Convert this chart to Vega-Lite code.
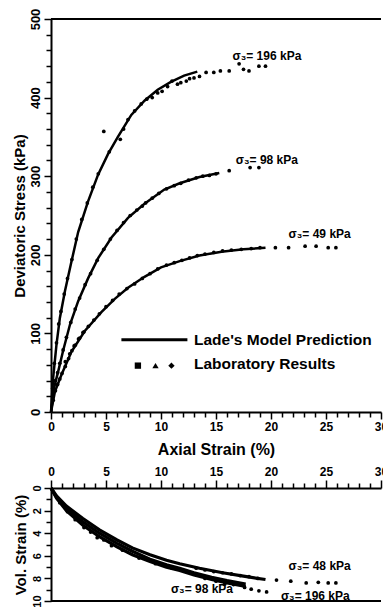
{
  "$schema": "https://vega.github.io/schema/vega-lite/v6.json",
  "background": "white",
  "padding": {"left": 12, "top": 8, "right": 0, "bottom": 0},
  "bounds": "flush",
  "spacing": 76,
  "config": {
    "font": "Liberation Sans",
    "view": {"stroke": null},
    "axis": {
      "grid": false,
      "domainColor": "black",
      "domainWidth": 2,
      "tickColor": "black",
      "tickWidth": 1.5,
      "labelColor": "black",
      "titleColor": "black",
      "labelFontWeight": "bold",
      "titleFontWeight": "bold",
      "labelFont": "Liberation Sans",
      "titleFont": "Liberation Sans",
      "labelOverlap": false,
      "labelFlush": false
    }
  },
  "datasets": {
    "model": [
      {"s": 0, "q": 0, "c": "196"}, {"s": 0.2, "q": 44, "c": "196"}, {"s": 0.5, "q": 86, "c": "196"}, {"s": 0.81, "q": 120, "c": "196"}, {"s": 1.27, "q": 154, "c": "196"}, {"s": 1.87, "q": 192, "c": "196"}, {"s": 2.47, "q": 229, "c": "196"}, {"s": 3.37, "q": 268, "c": "196"}, {"s": 4.28, "q": 302, "c": "196"}, {"s": 5.18, "q": 328, "c": "196"}, {"s": 6.08, "q": 350, "c": "196"}, {"s": 7.3, "q": 378, "c": "196"}, {"s": 8.5, "q": 396, "c": "196"}, {"s": 9.7, "q": 410, "c": "196"}, {"s": 10.9, "q": 420, "c": "196"}, {"s": 12.1, "q": 428, "c": "196"}, {"s": 13.3, "q": 433, "c": "196"},
      {"s": 0, "q": 0, "c": "98"}, {"s": 0.3, "q": 32, "c": "98"}, {"s": 0.66, "q": 52, "c": "98"}, {"s": 1.1, "q": 78, "c": "98"}, {"s": 1.72, "q": 111, "c": "98"}, {"s": 2.47, "q": 141, "c": "98"}, {"s": 3.37, "q": 170, "c": "98"}, {"s": 4.3, "q": 196, "c": "98"}, {"s": 5.5, "q": 222, "c": "98"}, {"s": 7.0, "q": 247, "c": "98"}, {"s": 8.5, "q": 265, "c": "98"}, {"s": 10.3, "q": 283, "c": "98"}, {"s": 11.7, "q": 291, "c": "98"}, {"s": 13.5, "q": 299, "c": "98"}, {"s": 15.3, "q": 304, "c": "98"},
      {"s": 0, "q": 0, "c": "49"}, {"s": 0.36, "q": 26, "c": "49"}, {"s": 0.97, "q": 48, "c": "49"}, {"s": 1.87, "q": 77, "c": "49"}, {"s": 3.07, "q": 103, "c": "49"}, {"s": 4.58, "q": 127, "c": "49"}, {"s": 5.8, "q": 144, "c": "49"}, {"s": 7.0, "q": 158, "c": "49"}, {"s": 8.5, "q": 172, "c": "49"}, {"s": 10.0, "q": 184, "c": "49"}, {"s": 11.7, "q": 192, "c": "49"}, {"s": 13.5, "q": 199, "c": "49"}, {"s": 15.5, "q": 204, "c": "49"}, {"s": 17.5, "q": 207, "c": "49"}, {"s": 19.5, "q": 209, "c": "49"}
    ],
    "lab": [
      {"s": 0.15, "q": 30}, {"s": 0.3, "q": 62}, {"s": 0.5, "q": 88}, {"s": 0.7, "q": 112}, {"s": 0.9, "q": 128}, {"s": 1.2, "q": 150}, {"s": 1.5, "q": 170}, {"s": 1.9, "q": 194}, {"s": 2.3, "q": 220}, {"s": 2.8, "q": 245}, {"s": 3.3, "q": 266}, {"s": 3.8, "q": 286}, {"s": 4.3, "q": 303}, {"s": 4.8, "q": 357}, {"s": 5.3, "q": 331}, {"s": 6.3, "q": 347}, {"s": 6.6, "q": 360}, {"s": 7.0, "q": 372}, {"s": 7.6, "q": 383}, {"s": 8.2, "q": 392}, {"s": 8.7, "q": 398}, {"s": 9.2, "q": 400}, {"s": 9.7, "q": 406}, {"s": 10.1, "q": 408}, {"s": 10.6, "q": 414}, {"s": 11.0, "q": 421}, {"s": 11.5, "q": 417}, {"s": 11.8, "q": 419}, {"s": 12.3, "q": 421}, {"s": 12.6, "q": 424}, {"s": 13.0, "q": 425}, {"s": 13.5, "q": 427}, {"s": 14.1, "q": 432}, {"s": 14.8, "q": 432}, {"s": 15.4, "q": 434}, {"s": 16.2, "q": 434}, {"s": 17.1, "q": 443}, {"s": 17.5, "q": 436}, {"s": 18.0, "q": 434}, {"s": 18.9, "q": 440}, {"s": 19.5, "q": 440},
      {"s": 0.2, "q": 25}, {"s": 0.4, "q": 40}, {"s": 0.6, "q": 50}, {"s": 0.8, "q": 62}, {"s": 1.1, "q": 79}, {"s": 1.4, "q": 95}, {"s": 1.8, "q": 114}, {"s": 2.2, "q": 131}, {"s": 2.6, "q": 145}, {"s": 3.1, "q": 162}, {"s": 3.6, "q": 176}, {"s": 4.2, "q": 193}, {"s": 4.8, "q": 207}, {"s": 5.4, "q": 220}, {"s": 6.0, "q": 231}, {"s": 6.6, "q": 241}, {"s": 7.2, "q": 250}, {"s": 7.8, "q": 257}, {"s": 8.3, "q": 262}, {"s": 8.6, "q": 266}, {"s": 9.2, "q": 272}, {"s": 9.8, "q": 278}, {"s": 10.5, "q": 284}, {"s": 11.2, "q": 288}, {"s": 11.8, "q": 291}, {"s": 12.5, "q": 295}, {"s": 13.2, "q": 298}, {"s": 13.8, "q": 300}, {"s": 14.4, "q": 301}, {"s": 15.0, "q": 303}, {"s": 16.2, "q": 307}, {"s": 18.1, "q": 311}, {"s": 18.9, "q": 311},
      {"s": 0.2, "q": 15}, {"s": 0.4, "q": 27}, {"s": 0.6, "q": 35}, {"s": 0.8, "q": 42}, {"s": 1.0, "q": 49}, {"s": 1.3, "q": 58}, {"s": 1.6, "q": 68}, {"s": 1.9, "q": 78}, {"s": 2.2, "q": 85}, {"s": 2.6, "q": 94}, {"s": 3.0, "q": 102}, {"s": 3.4, "q": 109}, {"s": 3.9, "q": 117}, {"s": 4.4, "q": 125}, {"s": 5.0, "q": 134}, {"s": 5.6, "q": 142}, {"s": 6.2, "q": 150}, {"s": 6.9, "q": 157}, {"s": 7.6, "q": 163}, {"s": 8.3, "q": 170}, {"s": 9.0, "q": 176}, {"s": 9.7, "q": 182}, {"s": 10.5, "q": 187}, {"s": 11.2, "q": 190}, {"s": 11.9, "q": 193}, {"s": 12.6, "q": 196}, {"s": 13.3, "q": 199}, {"s": 14.0, "q": 201}, {"s": 14.8, "q": 203}, {"s": 15.6, "q": 205}, {"s": 16.4, "q": 206}, {"s": 17.3, "q": 207}, {"s": 18.2, "q": 208}, {"s": 19.0, "q": 209}, {"s": 20.4, "q": 209}, {"s": 21.6, "q": 209}, {"s": 23.1, "q": 211}, {"s": 24.1, "q": 211}, {"s": 25.2, "q": 209}, {"s": 25.9, "q": 209},
      {"s": 1.3, "q": 64}, {"s": 1.7, "q": 74}, {"s": 2.1, "q": 84}, {"s": 2.5, "q": 93}, {"s": 2.9, "q": 101}
    ],
    "toplabels": [
      {"s": 16.5, "q": 453, "t": "σ₃= 196 kPa"},
      {"s": 16.8, "q": 320, "t": "σ₃= 98 kPa"},
      {"s": 21.6, "q": 227, "t": "σ₃= 49 kPa"}
    ],
    "legline": [{"s": 6.4, "s2": 12.4, "q": 92}],
    "legmark": [
      {"s": 7.9, "q": 59, "shape": "square"},
      {"s": 9.5, "q": 59, "shape": "triangle-up"},
      {"s": 10.95, "q": 59, "shape": "diamond"}
    ],
    "legtext": [
      {"s": 13.0, "q": 91, "t": "Lade's Model Prediction"},
      {"s": 13.0, "q": 61, "t": "Laboratory Results"}
    ],
    "vmodel": [
      {"s": 0, "v": 0, "c": "49"}, {"s": 0.5, "v": 0.7, "c": "49"}, {"s": 1.4, "v": 1.6, "c": "49"}, {"s": 2.9, "v": 2.7, "c": "49"}, {"s": 4.4, "v": 3.7, "c": "49"}, {"s": 6.0, "v": 4.6, "c": "49"}, {"s": 7.4, "v": 5.3, "c": "49"}, {"s": 9.0, "v": 5.9, "c": "49"}, {"s": 10.5, "v": 6.4, "c": "49"}, {"s": 11.7, "v": 6.7, "c": "49"}, {"s": 13.5, "v": 7.1, "c": "49"}, {"s": 15.6, "v": 7.5, "c": "49"}, {"s": 17.5, "v": 7.8, "c": "49"}, {"s": 19.5, "v": 8.1, "c": "49"},
      {"s": 0, "v": 0, "c": "98"}, {"s": 0.5, "v": 0.8, "c": "98"}, {"s": 1.4, "v": 1.8, "c": "98"}, {"s": 2.9, "v": 3.0, "c": "98"}, {"s": 4.4, "v": 4.0, "c": "98"}, {"s": 6.0, "v": 4.9, "c": "98"}, {"s": 7.4, "v": 5.6, "c": "98"}, {"s": 9.0, "v": 6.3, "c": "98"}, {"s": 10.5, "v": 6.8, "c": "98"}, {"s": 11.7, "v": 7.1, "c": "98"}, {"s": 13.0, "v": 7.5, "c": "98"}, {"s": 14.6, "v": 7.9, "c": "98"}, {"s": 16.0, "v": 8.2, "c": "98"}, {"s": 17.7, "v": 8.5, "c": "98"},
      {"s": 0, "v": 0, "c": "196"}, {"s": 0.5, "v": 0.9, "c": "196"}, {"s": 1.4, "v": 2.0, "c": "196"}, {"s": 2.9, "v": 3.3, "c": "196"}, {"s": 4.4, "v": 4.3, "c": "196"}, {"s": 6.0, "v": 5.2, "c": "196"}, {"s": 7.4, "v": 5.9, "c": "196"}, {"s": 9.0, "v": 6.5, "c": "196"}, {"s": 10.5, "v": 7.0, "c": "196"}, {"s": 11.7, "v": 7.3, "c": "196"}, {"s": 13.0, "v": 7.7, "c": "196"}, {"s": 14.6, "v": 8.1, "c": "196"}, {"s": 16.0, "v": 8.4, "c": "196"}, {"s": 17.7, "v": 8.7, "c": "196"}
    ],
    "vlab": [
      {"s": 0.8, "v": 1.3}, {"s": 1.5, "v": 2.1}, {"s": 2.2, "v": 2.8}, {"s": 3.0, "v": 3.5}, {"s": 3.6, "v": 3.9}, {"s": 4.2, "v": 4.4}, {"s": 4.8, "v": 4.6}, {"s": 5.5, "v": 5.1}, {"s": 6.5, "v": 5.5}, {"s": 8.0, "v": 6.2}, {"s": 9.5, "v": 6.7}, {"s": 11.0, "v": 7.1},
      {"s": 13.2, "v": 7.1}, {"s": 14.0, "v": 7.25}, {"s": 14.8, "v": 7.4}, {"s": 15.6, "v": 7.5}, {"s": 16.4, "v": 7.6}, {"s": 17.2, "v": 7.75}, {"s": 18.0, "v": 7.85}, {"s": 18.8, "v": 8.0},
      {"s": 20.5, "v": 8.15}, {"s": 21.8, "v": 8.25}, {"s": 23.2, "v": 8.4}, {"s": 24.3, "v": 8.35}, {"s": 25.2, "v": 8.4}, {"s": 25.9, "v": 8.4},
      {"s": 14.0, "v": 8.0}, {"s": 15.0, "v": 8.25}, {"s": 15.8, "v": 8.5}, {"s": 16.6, "v": 8.55}, {"s": 17.6, "v": 8.8}, {"s": 18.2, "v": 8.95}, {"s": 18.9, "v": 9.1}, {"s": 19.6, "v": 9.2}
    ],
    "botlabels": [
      {"s": 21.6, "v": 6.9, "t": "σ₃= 48 kPa"},
      {"s": 10.9, "v": 8.9, "t": "σ₃= 98 kPa"},
      {"s": 20.9, "v": 9.6, "t": "σ₃= 196 kPa"}
    ]
  },
  "vconcat": [
    {
      "width": 330,
      "height": 393,
      "resolve": {"axis": {"x": "independent", "y": "independent"}},
      "layer": [
        {
          "data": {"name": "model"},
          "mark": {"type": "line", "color": "black", "strokeWidth": 2.5},
          "encoding": {
            "x": {
              "field": "s", "type": "quantitative",
              "scale": {"domain": [0, 30], "nice": false},
              "axis": {
                "orient": "bottom",
                "values": [0, 5, 10, 15, 20, 25, 30],
                "tickSize": 7,
                "labelFontSize": 12,
                "labelPadding": 2,
                "labelOverlap": false,
                "title": "Axial Strain (%)",
                "titleFontSize": 16,
                "titlePadding": 9
              }
            },
            "y": {
              "field": "q", "type": "quantitative",
              "scale": {"domain": [0, 500], "nice": false},
              "axis": {
                "orient": "left",
                "values": [0, 100, 200, 300, 400, 500],
                "tickSize": 7,
                "labelAngle": 270,
                "labelAlign": "center",
                "labelBaseline": "bottom",
                "labelFontSize": 13,
                "labelPadding": 2,
                "labelOverlap": false,
                "title": "Deviatoric Stress (kPa)",
                "titleFontSize": 15,
                "titlePadding": 2
              }
            },
            "detail": {"field": "c", "type": "nominal"}
          }
        },
        {
          "data": {"name": "lab"},
          "mark": {"type": "circle", "color": "black", "size": 14, "opacity": 1},
          "encoding": {
            "x": {
              "field": "s", "type": "quantitative",
              "axis": {"orient": "bottom", "values": [1,2,3,4,6,7,8,9,11,12,13,14,16,17,18,19,21,22,23,24,26,27,28,29], "tickSize": 5, "labels": false, "domain": false, "title": null}
            },
            "y": {
              "field": "q", "type": "quantitative",
              "axis": {"orient": "left", "values": [20,40,60,80,120,140,160,180,220,240,260,280,320,340,360,380,420,440,460,480], "tickSize": 5, "labels": false, "domain": false, "title": null}
            }
          }
        },
        {
          "data": {"name": "toplabels"},
          "mark": {"type": "text", "align": "left", "baseline": "middle", "fontSize": 12, "fontWeight": "bold", "color": "black"},
          "encoding": {
            "x": {"field": "s", "type": "quantitative", "axis": null},
            "y": {"field": "q", "type": "quantitative", "axis": null},
            "text": {"field": "t"}
          }
        },
        {
          "data": {"name": "legline"},
          "mark": {"type": "rule", "color": "black", "strokeWidth": 3},
          "encoding": {
            "x": {"field": "s", "type": "quantitative", "axis": null},
            "x2": {"field": "s2"},
            "y": {"field": "q", "type": "quantitative", "axis": null}
          }
        },
        {
          "data": {"name": "legmark"},
          "mark": {"type": "point", "filled": true, "color": "black", "size": 40, "opacity": 1},
          "encoding": {
            "x": {"field": "s", "type": "quantitative", "axis": null},
            "y": {"field": "q", "type": "quantitative", "axis": null},
            "shape": {"field": "shape", "type": "nominal", "scale": null}
          }
        },
        {
          "data": {"name": "legtext"},
          "mark": {"type": "text", "align": "left", "baseline": "middle", "fontSize": 15.5, "fontWeight": "bold", "color": "black"},
          "encoding": {
            "x": {"field": "s", "type": "quantitative", "axis": null},
            "y": {"field": "q", "type": "quantitative", "axis": null},
            "text": {"field": "t"}
          }
        },
        {
          "data": {"values": [{}]},
          "mark": {"type": "rule", "color": "black", "strokeWidth": 2},
          "encoding": {"y": {"datum": 500, "type": "quantitative", "axis": null}}
        }
      ]
    },
    {
      "width": 330,
      "height": 113,
      "resolve": {"axis": {"x": "independent", "y": "independent"}},
      "layer": [
        {
          "data": {"name": "vmodel"},
          "mark": {"type": "line", "color": "black", "strokeWidth": 3.2},
          "encoding": {
            "x": {
              "field": "s", "type": "quantitative",
              "scale": {"domain": [0, 30], "nice": false},
              "axis": {
                "orient": "top",
                "values": [0, 5, 10, 15, 20, 25, 30],
                "tickSize": 8,
                "labelFontSize": 12,
                "labelPadding": 2,
                "labelOverlap": false,
                "title": null
              }
            },
            "y": {
              "field": "v", "type": "quantitative",
              "scale": {"domain": [0, 10], "nice": false, "reverse": true},
              "axis": {
                "orient": "left",
                "values": [0, 2, 4, 6, 8, 10],
                "tickSize": 7,
                "labelAngle": 270,
                "labelAlign": "center",
                "labelBaseline": "bottom",
                "labelFontSize": 11,
                "labelPadding": 2,
                "labelOverlap": false,
                "labelFlush": true,
                "title": "Vol. Strain (%)",
                "titleFontSize": 15,
                "titlePadding": 3
              }
            },
            "detail": {"field": "c", "type": "nominal"}
          }
        },
        {
          "data": {"name": "vlab"},
          "mark": {"type": "circle", "color": "black", "size": 14, "opacity": 1},
          "encoding": {
            "x": {
              "field": "s", "type": "quantitative",
              "axis": {"orient": "top", "values": [1,2,3,4,6,7,8,9,11,12,13,14,16,17,18,19,21,22,23,24,26,27,28,29], "tickSize": 5, "labels": false, "domain": false, "title": null}
            },
            "y": {
              "field": "v", "type": "quantitative",
              "axis": {"orient": "left", "values": [1, 3, 5, 7, 9], "tickSize": 5, "labels": false, "domain": false, "title": null}
            }
          }
        },
        {
          "data": {"name": "botlabels"},
          "mark": {"type": "text", "align": "left", "baseline": "middle", "fontSize": 12, "fontWeight": "bold", "color": "black"},
          "encoding": {
            "x": {"field": "s", "type": "quantitative", "axis": null},
            "y": {"field": "v", "type": "quantitative", "axis": null},
            "text": {"field": "t"}
          }
        },
        {
          "data": {"values": [{}]},
          "mark": {"type": "rule", "color": "black", "strokeWidth": 2},
          "encoding": {"y": {"datum": 10, "type": "quantitative", "axis": null}}
        }
      ]
    }
  ]
}
